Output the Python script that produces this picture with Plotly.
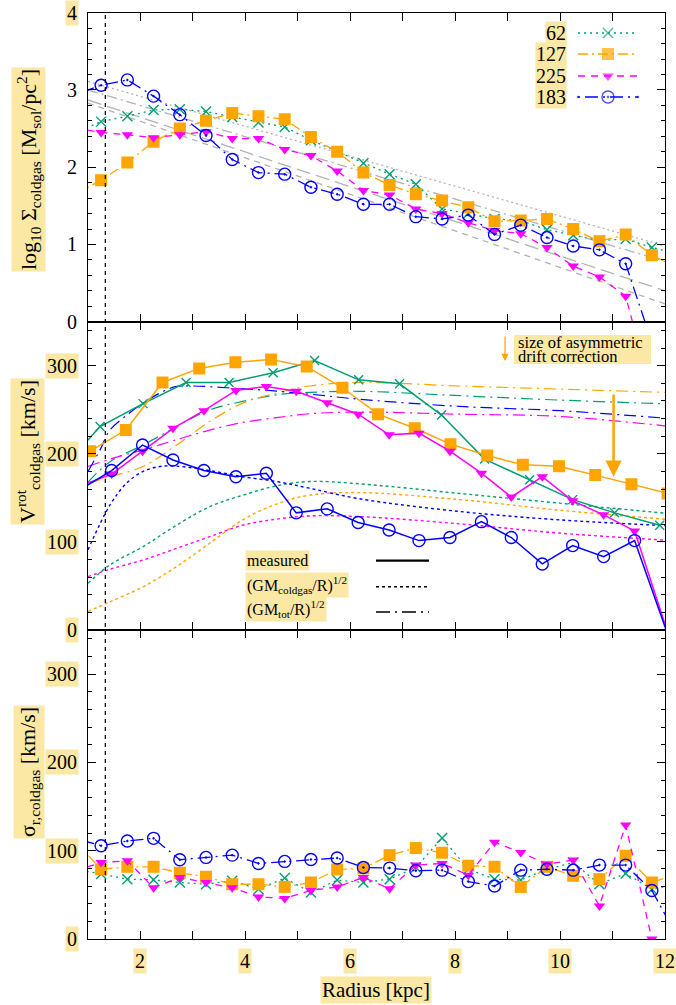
import plotly.graph_objects as go

# ---------------- data ----------------
# top & bottom panels: radial bins (kpc)
r_bins = [0.75, 1.25, 1.75, 2.25, 2.75, 3.25, 3.75, 4.25, 4.75, 5.25, 5.75, 6.25,
          6.75, 7.25, 7.75, 8.25, 8.75, 9.25, 9.75, 10.25, 10.75, 11.25, 11.75, 12.25]

sig_62 = [2.45, 2.59, 2.66, 2.74, 2.75, 2.72, 2.65, 2.58, 2.52, 2.35, 2.20, 2.05,
          1.91, 1.78, 1.46, 1.40, 1.33, 1.31, 1.19, 1.12, 1.05, 1.07, 0.96, 0.88]
sig_127 = [1.65, 1.83, 2.06, 2.33, 2.50, 2.60, 2.70, 2.66, 2.62, 2.39, 2.20, 1.93,
           1.77, 1.65, 1.57, 1.48, 1.30, 1.31, 1.33, 1.20, 1.04, 1.13, 0.86, 0.70]
sig_225 = [2.51, 2.45, 2.42, 2.38, 2.42, 2.46, 2.37, 2.37, 2.23, 2.15, 1.95, 1.70,
           1.64, 1.46, 1.40, 1.28, 1.18, 1.14, 0.96, 0.72, 0.58, 0.33, -0.95, None]
sig_183 = [2.94, 3.06, 3.13, 2.92, 2.68, 2.41, 2.10, 1.93, 1.91, 1.74, 1.65, 1.52,
           1.52, 1.36, 1.33, 1.38, 1.13, 1.25, 1.09, 0.98, 0.93, 0.75, -0.27, None]

# gray exponential-disc fits (log10 Sigma at R=1 and R=12)
fit_r = [1, 12]
fit_a = [3.11, 0.98]
fit_b = [3.00, 0.78]
fit_c = [2.87, 0.40]
fit_d = [2.83, 0.23]

disp_62 = [79.5, 73.5, 67.8, 67, 64, 62, 66, 56.4, 69, 52.7, 66.7, 64,
           67.8, 81, 114.4, 79, 67.8, 66.7, 79, 86.7, 62, 74.2, 56.4, 62]
disp_127 = [111, 79, 81.8, 81.8, 75, 70.5, 62, 62, 59, 64, 78.8, 80,
            95, 103, 97.7, 83, 81.8, 59, 81.8, 71.6, 67.8, 94.3, 64, 74]
disp_225 = [77, 86.7, 88.6, 58, 69.7, 64, 58, 47.7, 46, 55, 59, 69.7,
            57, 83.7, 85.6, 72.3, 109.5, 98, 84.8, 89.4, 37.5, 129, 0, None]
disp_183 = [114, 105.7, 111, 114, 89.8, 92.4, 95, 85.6, 87.9, 90, 91.7, 81,
            80.3, 77.3, 78, 65, 60, 78, 79, 78, 83.7, 83.7, 55, 1]

# middle panel: measured rotation
r_rot_62 = [0.41, 1.23, 2.05, 2.87, 3.69, 4.53, 5.32, 6.16, 6.94, 7.74, 8.56, 9.42, 10.24, 11.04, 11.90]
v_rot_62 = [177, 231, 257, 281, 281, 292, 306, 284, 279.5, 244, 194, 170.5, 148, 133, 119]
r_rot_127 = [0.35, 1.04, 1.72, 2.42, 3.12, 3.81, 4.49, 5.17, 5.85, 6.53, 7.23, 7.91, 8.61, 9.29,
             9.98, 10.67, 11.36, 12.05]
v_rot_127 = [185, 203, 227, 281, 297, 304, 307, 299, 275, 245, 229, 211, 198, 187.5, 186, 176, 165.6, 155]
r_rot_225 = [0.87, 1.45, 2.04, 2.62, 3.21, 3.82, 4.40, 4.97, 5.56, 6.15, 6.74, 7.31, 7.90, 8.50,
             9.07, 9.66, 10.24, 10.83, 11.42, 12.2]
v_rot_225 = [164, 177, 203, 229, 249, 272, 276.5, 271, 258, 245, 221.6, 223.5, 203, 178, 151, 174,
             146.6, 130.7, 112.5, -30]
r_rot_183 = r_rot_225
v_rot_183 = [160, 181, 210, 193, 181, 174, 178, 133, 137.5, 122, 113.6, 101.5, 105, 123, 105, 75,
             95.8, 83.3, 101.5, -30]

# middle panel: (GM_coldgas/R)^1/2 and (GM_tot/R)^1/2 curves
r_curve = [1.0, 1.42, 2.05, 2.69, 3.32, 3.95, 4.59, 5.22, 6.17, 8.09, 9.99, 12.0]
vgas_62 = [53, 74, 94.7, 119, 140, 153, 163.6, 168.6, 166, 155, 144, 132.6]
vgas_127 = [21, 32, 49, 72, 98.5, 125, 143, 153, 156, 148, 136, 125.8]
vgas_225 = [60.6, 69, 79.5, 92.8, 106, 119, 125.8, 129.5, 128.8, 120.5, 110, 102]
r_curve_183 = [1.0, 1.42, 1.74, 2.05, 2.37, 2.69, 3.32, 3.95, 4.59, 5.22, 6.17, 8.09, 9.99, 12.0]
vgas_183 = [91, 142, 167, 180, 185.6, 186, 181, 174, 168.6, 161, 149, 134.5, 125, 118.5]

vtot_62 = [168, 191, 210, 231, 250, 259.5, 267, 269.7, 271, 266, 261, 256.8]
vtot_127 = [166.7, 174, 185.6, 210, 236.7, 257.6, 269, 277, 281, 277, 273.5, 269.7]
vtot_225 = [185.6, 194, 204.5, 216, 227, 235.6, 241, 245.5, 247.4, 245, 242.4, 231.8]
r_tot_183 = [1.0, 1.23, 1.42, 1.74, 2.05, 2.37, 2.69, 3.01, 3.65, 4.27, 5.22, 6.17, 8.09, 9.99, 12.0]
vtot_183 = [180, 204.5, 227, 244, 257.6, 269, 276.5, 277, 275, 272.7, 267.8, 262, 253.8, 249, 240.5]

# asymmetric drift correction arrow (R, from, to)
adc_r = 11.02
adc_from = 269
adc_to = 174

r_inner = 1.33  # vertical dashed line

labels = ["62", "127", "225", "183"]
x_ticks = [2, 4, 6, 8, 10, 12]
top_yticks = [0, 1, 2, 3, 4]
top_yticks_hl = [False, False, False, False, True]
v_yticks = [0, 100, 200, 300]

# ---------------- styling / layout constants ----------------
W, H = 676, 1005
PX_L, PX_R = 88, 665
P_TOP, P_M1, P_M2, P_BOT = 12.7, 321.7, 630.0, 939.0
HL = "#fbe8a4"
GREEN, ORANGE, MAGENTA, BLUE, GRAY = "#009e73", "#ffa500", "#ff00ff", "#0000ff", "#b2b2b2"
FONT = "Liberation Serif"
TICK_FS = 20
TITLE_FS = 22


def fx(p):
    return p / W


def fy(p):
    return 1 - p / H


fig = go.Figure()

styles = {
    "62": dict(color=GREEN, dash="2px,4px", symbol="x-thin", size=10),
    "127": dict(color=ORANGE, dash="10px,4px,2px,4px", symbol="square", size=12),
    "225": dict(color=MAGENTA, dash="7px,6px", symbol="triangle-down", size=10),
    "183": dict(color=BLUE, dash="2px,5px,13px,5px", symbol="circle-open-dot", size=12),
}


def mk(st, symbol=None, size=None):
    sym = symbol or st["symbol"]
    return dict(symbol=sym, size=size or st["size"], color=st["color"],
                line=dict(color=st["color"], width=1.4 if ("x" in sym or "open" in sym) else 0))


# ---- top panel
for fy_vals, dsh in [(fit_a, "2px,3px"), (fit_b, "10px,4px,2px,4px"), (fit_c, "14px,6px"), (fit_d, "6px,5px")]:
    fig.add_trace(go.Scatter(x=fit_r, y=fy_vals, mode="lines", xaxis="x", yaxis="y",
                             line=dict(color=GRAY, width=1.3, dash=dsh), showlegend=False, hoverinfo="skip"))

for lab, vals in zip(labels, [sig_62, sig_127, sig_225, sig_183]):
    st = styles[lab]
    fig.add_trace(go.Scatter(x=r_bins, y=vals, mode="lines+markers", xaxis="x", yaxis="y",
                             line=dict(color=st["color"], width=1.3, dash=st["dash"]),
                             marker=mk(st), showlegend=False))

# ---- middle panel curves
for rr, vals, col in [(r_curve, vgas_62, GREEN), (r_curve, vgas_127, ORANGE),
                      (r_curve, vgas_225, MAGENTA), (r_curve_183, vgas_183, BLUE)]:
    fig.add_trace(go.Scatter(x=rr, y=vals, mode="lines", xaxis="x2", yaxis="y2", line_shape="spline",
                             line=dict(color=col, width=1.4, dash="3px,3px"), showlegend=False))
for rr, vals, col in [(r_curve, vtot_62, GREEN), (r_curve, vtot_127, ORANGE),
                      (r_curve, vtot_225, MAGENTA), (r_tot_183, vtot_183, BLUE)]:
    fig.add_trace(go.Scatter(x=rr, y=vals, mode="lines", xaxis="x2", yaxis="y2", line_shape="spline",
                             line=dict(color=col, width=1.2, dash="12px,5px,2px,5px"), showlegend=False))

for lab, rr, vals in zip(labels, [r_rot_62, r_rot_127, r_rot_225, r_rot_183],
                         [v_rot_62, v_rot_127, v_rot_225, v_rot_183]):
    st = styles[lab]
    sym = "circle-open" if lab == "183" else None
    sz = 9 if lab == "62" else None
    fig.add_trace(go.Scatter(x=rr, y=vals, mode="lines+markers", xaxis="x2", yaxis="y2",
                             line=dict(color=st["color"], width=1.5),
                             marker=mk(st, sym, sz), showlegend=False))

# ---- bottom panel
for lab, vals in zip(labels, [disp_62, disp_127, disp_225, disp_183]):
    st = styles[lab]
    fig.add_trace(go.Scatter(x=r_bins, y=vals, mode="lines+markers", xaxis="x3", yaxis="y3",
                             line=dict(color=st["color"], width=1.3, dash=st["dash"]),
                             marker=mk(st), showlegend=False))

# ---- legend keys (pixel overlay axes)
leg_rows = [33, 54, 76, 97]
for lab, yy in zip(labels, leg_rows):
    st = styles[lab]
    m = mk(st)
    m["size"] = [0, st["size"], 0]
    fig.add_trace(go.Scatter(x=[578, 608, 638], y=[yy] * 3, mode="lines+markers", xaxis="x4", yaxis="y4",
                             line=dict(color=st["color"], width=1.3, dash=st["dash"]),
                             marker=m, showlegend=False, hoverinfo="skip"))
for yy, dsh, wd in [(560.7, "solid", 2.2), (586.7, "3px,3px", 1.4), (612, "14px,5px,2px,5px", 1.6)]:
    fig.add_trace(go.Scatter(x=[376, 429], y=[yy, yy], mode="lines", xaxis="x4", yaxis="y4",
                             line=dict(color="black", width=wd, dash=dsh), showlegend=False, hoverinfo="skip"))

# ---------------- axes ----------------
xcommon = dict(range=[1, 12], domain=[fx(PX_L), fx(PX_R)], showgrid=False, zeroline=False,
               showline=True, mirror="ticks", linecolor="black", linewidth=1.4,
               ticks="inside", ticklen=8, tickwidth=1.2, tickcolor="black", dtick=1, tick0=0,
               showticklabels=False, fixedrange=True)
ycommon = dict(showgrid=False, zeroline=False, showline=True, mirror="ticks", linecolor="black",
               linewidth=1.4, ticks="inside", ticklen=8, tickwidth=1.2, tickcolor="black",
               showticklabels=False, fixedrange=True)

fig.update_layout(
    width=W, height=H, autosize=False, margin=dict(l=0, r=0, t=0, b=0),
    plot_bgcolor="rgba(0,0,0,0)", paper_bgcolor="white",
    font=dict(family=FONT, size=18, color="black"),
    xaxis=dict(xcommon, anchor="y"),
    xaxis2=dict(xcommon, anchor="y2"),
    xaxis3=dict(xcommon, anchor="y3"),
    yaxis=dict(ycommon, anchor="x", range=[0, 4], dtick=1, tick0=0,
               domain=[fy(P_M1), fy(P_TOP)],
               minor=dict(dtick=0.2, ticks="inside", ticklen=4, tickcolor="black", tickwidth=1)),
    yaxis2=dict(ycommon, anchor="x2", range=[0, 350], dtick=100, tick0=0,
                domain=[fy(P_M2), fy(P_M1)],
                minor=dict(dtick=20, ticks="inside", ticklen=4, tickcolor="black", tickwidth=1)),
    yaxis3=dict(ycommon, anchor="x3", range=[0, 350], dtick=100, tick0=0,
                domain=[fy(P_BOT), fy(P_M2)],
                minor=dict(dtick=20, ticks="inside", ticklen=4, tickcolor="black", tickwidth=1)),
    xaxis4=dict(domain=[0, 1], range=[0, W], visible=False, anchor="y4", fixedrange=True),
    yaxis4=dict(domain=[0, 1], range=[H, 0], visible=False, anchor="x4", fixedrange=True),
)

# vertical dashed line
fig.add_shape(type="line", xref="x", yref="paper", x0=r_inner, x1=r_inner, y0=fy(P_BOT), y1=fy(P_TOP),
              line=dict(color="black", width=1.2, dash="4px,4px"))
# highlight box behind the asymmetric-drift note
fig.add_shape(type="rect", xref="paper", yref="paper", x0=fx(514), x1=fx(651), y0=fy(364), y1=fy(335),
              fillcolor=HL, line=dict(width=0), layer="below")

ann = []
# axis titles
ann.append(dict(x=fx(376), xref="paper", y=fy(990), yref="paper", text="Radius [kpc]", showarrow=False,
                font=dict(size=21), bgcolor=HL, xanchor="center", yanchor="middle"))
ann.append(dict(x=fx(28), xref="paper", y=fy(170), yref="paper",
                text="log<sub>10</sub> Σ<sub>coldgas</sub> [M<sub>sol</sub>/pc<sup>2</sup>]",
                textangle=-90, showarrow=False, font=dict(size=TITLE_FS), bgcolor=HL,
                xanchor="center", yanchor="middle"))
ann.append(dict(x=fx(27), xref="paper", y=fy(452), yref="paper",
                text="V<sup>rot</sup><sub>coldgas</sub> [km/s]",
                textangle=-90, showarrow=False, font=dict(size=TITLE_FS), bgcolor=HL,
                xanchor="center", yanchor="middle"))
ann.append(dict(x=fx(29), xref="paper", y=fy(772), yref="paper",
                text="σ<sub>r,coldgas</sub> [km/s]",
                textangle=-90, showarrow=False, font=dict(size=TITLE_FS), bgcolor=HL,
                xanchor="center", yanchor="middle"))

# x tick labels
for t in x_ticks:
    ann.append(dict(x=t, xref="x3", y=fy(961), yref="paper", text=str(t), showarrow=False,
                    font=dict(size=TICK_FS), bgcolor=HL, xanchor="center", yanchor="middle"))
# y tick labels
for t, hl in zip(top_yticks, top_yticks_hl):
    ann.append(dict(x=fx(79), xref="paper", y=t, yref="y", text=str(t), showarrow=False,
                    font=dict(size=TICK_FS), bgcolor=HL if hl else "rgba(0,0,0,0)",
                    xanchor="right", yanchor="middle"))
for yr in ["y2", "y3"]:
    for t in v_yticks:
        ann.append(dict(x=fx(79), xref="paper", y=t, yref=yr, text=str(t), showarrow=False,
                        font=dict(size=TICK_FS), bgcolor=HL, xanchor="right", yanchor="middle"))

# legend labels
for lab, yy in zip(labels, leg_rows):
    ann.append(dict(x=fx(567), xref="paper", y=fy(yy), yref="paper", text=lab, showarrow=False,
                    font=dict(size=20), bgcolor=HL, borderpad=0, xanchor="right", yanchor="middle"))
# middle legend labels
for txt, yy in [("measured", 560.7), ("(GM<sub>coldgas</sub>/R)<sup>1/2</sup>", 585),
                ("(GM<sub>tot</sub>/R)<sup>1/2</sup>", 609)]:
    ann.append(dict(x=fx(245), xref="paper", y=fy(yy), yref="paper", text=txt, showarrow=False,
                    font=dict(size=16), bgcolor=HL, xanchor="left", yanchor="middle"))

# asymmetric drift correction note
ann.append(dict(x=fx(516), xref="paper", y=fy(342.5), yref="paper", text="size of asymmetric",
                showarrow=False, font=dict(size=16.5), xanchor="left", yanchor="middle"))
ann.append(dict(x=fx(516), xref="paper", y=fy(356.5), yref="paper", text="drift correction",
                showarrow=False, font=dict(size=16.5), xanchor="left", yanchor="middle"))
ann.append(dict(x=fx(505), xref="paper", y=fy(361), yref="paper", text="", showarrow=True,
                ax=0, ay=-26, arrowcolor=ORANGE, arrowwidth=1.2, arrowhead=2, arrowsize=1.2))
# big arrow
ann.append(dict(x=adc_r, xref="x2", y=adc_to, yref="y2", ax=adc_r, axref="x2", ay=adc_from, ayref="y2",
                text="", showarrow=True, arrowcolor=ORANGE, arrowwidth=2.5, arrowhead=2, arrowsize=1.3))

fig.update_layout(annotations=ann)
fig.write_html("out.html")
